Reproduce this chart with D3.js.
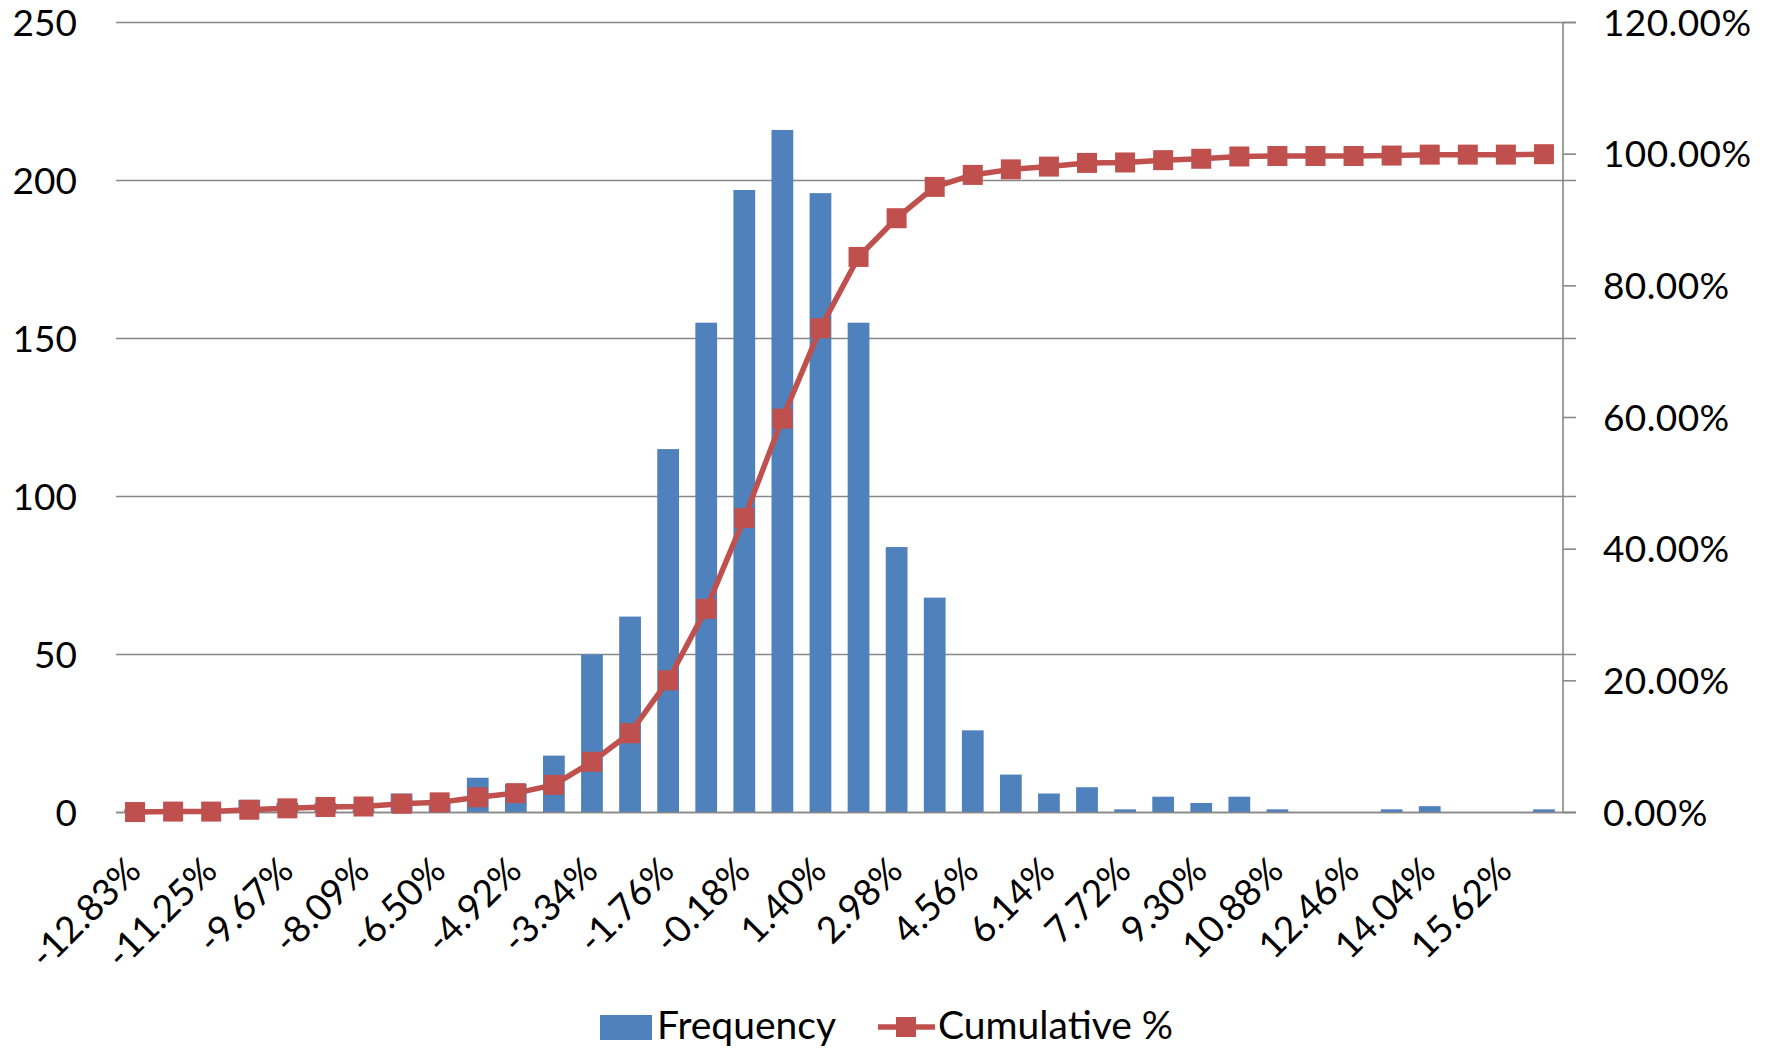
<!DOCTYPE html>
<html><head><meta charset="utf-8">
<script src="https://cdn.jsdelivr.net/npm/d3@7"></script>
<style>
body{margin:0;background:#fff}
text{font-family:Lato,"Open Sans",sans-serif;fill:#000}
</style>
</head><body>
<svg id="chart" width="1768" height="1048"></svg>
<script>
const categories = ["-12.83%","-12.04%","-11.25%","-10.46%","-9.67%","-8.88%","-8.09%","-7.29%","-6.50%","-5.71%","-4.92%","-4.13%","-3.34%","-2.55%","-1.76%","-0.97%","-0.18%","0.61%","1.40%","2.19%","2.98%","3.77%","4.56%","5.35%","6.14%","6.93%","7.72%","8.51%","9.30%","10.09%","10.88%","11.67%","12.46%","13.25%","14.04%","14.83%","15.62%","More"];
const frequency = [1,1,0,4,3,3,1,6,3,11,9,18,50,62,115,155,197,216,196,155,84,68,26,12,6,8,1,5,3,5,1,0,0,1,2,0,0,1];
const cumulativePct = [0.07,0.14,0.14,0.42,0.63,0.84,0.91,1.33,1.54,2.31,2.94,4.20,7.70,12.04,20.08,30.93,44.72,59.83,73.55,84.39,90.27,95.03,96.85,97.69,98.11,98.67,98.74,99.09,99.30,99.65,99.72,99.72,99.72,99.79,99.93,99.93,99.93,100.00];
const leftTicks = [0,50,100,150,200,250];
const rightTicks = [0,20,40,60,80,100,120];
const seriesNames = ["Frequency","Cumulative %"];

const svg = d3.select("#chart");
const plot = {left:116, right:1563, top:22.5, bottom:812.5};
const blue = "#4F81BD", red = "#C0504D", grid = "#888888";

const x = d3.scaleBand().domain(categories).range([plot.left, plot.right]).paddingInner(0.75/1.75).paddingOuter(0.375/1.75);
const yL = d3.scaleLinear().domain([0,250]).range([plot.bottom, plot.top]);
const yR = d3.scaleLinear().domain([0,120]).range([plot.bottom, plot.top]);

// gridlines
svg.append("g").selectAll("line").data(leftTicks).join("line")
  .attr("x1", plot.left).attr("x2", plot.right + 13)
  .attr("y1", d => yL(d)).attr("y2", d => yL(d))
  .attr("stroke", grid).attr("stroke-width", 1.6);

// left tick labels
svg.append("g").selectAll("text").data(leftTicks).join("text")
  .attr("x", 77).attr("y", d => yL(d)).attr("dy", "0.36em")
  .attr("text-anchor", "end").attr("font-size", 37).text(d => d);

// bars
svg.append("g").selectAll("rect").data(frequency).join("rect")
  .attr("x", (d,i) => x(categories[i])).attr("width", x.bandwidth())
  .attr("y", d => yL(d)).attr("height", d => yL(0) - yL(d))
  .attr("fill", blue);

// right axis
const gR = svg.append("g");
gR.append("line").attr("x1", plot.right).attr("x2", plot.right)
  .attr("y1", yR(120)).attr("y2", yR(0)).attr("stroke", grid).attr("stroke-width", 1.6);
gR.selectAll("line.t").data(rightTicks).join("line").attr("class","t")
  .attr("x1", plot.right).attr("x2", plot.right + 13)
  .attr("y1", d => yR(d)).attr("y2", d => yR(d)).attr("stroke", grid).attr("stroke-width", 1.6);
gR.selectAll("text").data(rightTicks).join("text")
  .attr("x", 1603).attr("y", d => yR(d)).attr("dy", "0.36em")
  .attr("font-size", 37).attr("letter-spacing", 0.4).text(d => d3.format(".2f")(d) + "%");

// x axis base line
svg.append("line").attr("x1", plot.left).attr("x2", plot.right + 13)
  .attr("y1", yL(0)).attr("y2", yL(0)).attr("stroke", grid).attr("stroke-width", 1.6);

// category labels
const cx = c => x(c) + x.bandwidth()/2;
svg.append("g").selectAll("text").data(categories.filter((c,i) => i % 2 === 0)).join("text")
  .attr("transform", c => `translate(${cx(c) + 8},873) rotate(-45)`)
  .attr("text-anchor", "end").attr("font-size", 37).text(c => c);

// cumulative line
const line = d3.line().x((d,i) => cx(categories[i])).y(d => yR(d));
svg.append("path").datum(cumulativePct).attr("d", line)
  .attr("fill", "none").attr("stroke", red).attr("stroke-width", 5.5).attr("stroke-linejoin", "round");
svg.append("g").selectAll("rect").data(cumulativePct).join("rect")
  .attr("x", (d,i) => cx(categories[i]) - 10).attr("y", d => yR(d) - 10)
  .attr("width", 20).attr("height", 20).attr("fill", red);

// legend
const lg = svg.append("g");
lg.append("rect").attr("x", 600).attr("y", 1015).attr("width", 52).attr("height", 25).attr("fill", blue);
lg.append("text").attr("x", 657).attr("y", 1039).attr("font-size", 39).text(seriesNames[0]);
lg.append("line").attr("x1", 878).attr("x2", 935).attr("y1", 1027).attr("y2", 1027).attr("stroke", red).attr("stroke-width", 5.5);
lg.append("rect").attr("x", 896).attr("y", 1017).attr("width", 20).attr("height", 20).attr("fill", red);
lg.append("text").attr("x", 938).attr("y", 1039).attr("font-size", 39).text(seriesNames[1]);
</script>
</body></html>
